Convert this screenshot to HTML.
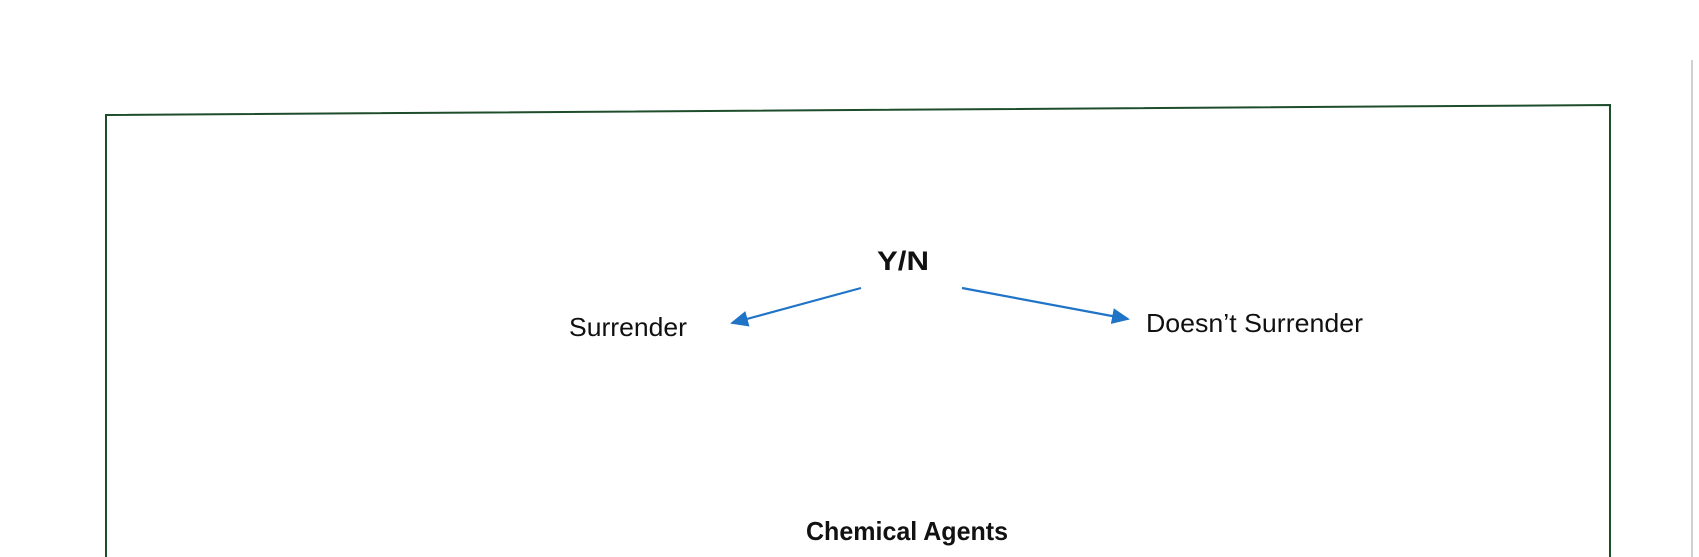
<!DOCTYPE html>
<html><head><meta charset="utf-8"><style>html,body{margin:0;padding:0;background:#fff;}svg{display:block}</style></head>
<body>
<svg width="1699" height="557" viewBox="0 0 1699 557" xmlns="http://www.w3.org/2000/svg">
<defs>
<marker id="ah" markerWidth="18" markerHeight="16" refX="16" refY="8" orient="auto" markerUnits="userSpaceOnUse" viewBox="0 0 18 16">
<path d="M0,0 L18,8 L0,16 z" fill="#1f74c8"/>
</marker>
</defs>
<rect width="1699" height="557" fill="#fff"/>
<line x1="1692" y1="60" x2="1692" y2="557" stroke="#d0d0d0" stroke-width="2"/>
<polyline points="106,557 106,115 1610,105 1610,557" fill="none" stroke="#1e4d2b" stroke-width="2"/>
<g font-family="'Liberation Sans', sans-serif" fill="#111">
<text x="877" y="270" font-size="27" font-weight="bold" textLength="52" lengthAdjust="spacingAndGlyphs">Y/N</text>
<text x="569" y="336" font-size="26" textLength="118" lengthAdjust="spacingAndGlyphs">Surrender</text>
<text x="1146" y="332" font-size="26" textLength="217" lengthAdjust="spacingAndGlyphs">Doesn’t Surrender</text>
<text x="806" y="540" font-size="26" font-weight="bold" textLength="202" lengthAdjust="spacingAndGlyphs">Chemical Agents</text>
</g>
<line x1="861" y1="288" x2="732" y2="323" stroke="#1f74c8" stroke-width="2.2" marker-end="url(#ah)"/>
<line x1="962" y1="288" x2="1128" y2="319" stroke="#1f74c8" stroke-width="2.2" marker-end="url(#ah)"/>
</svg>
</body></html>
